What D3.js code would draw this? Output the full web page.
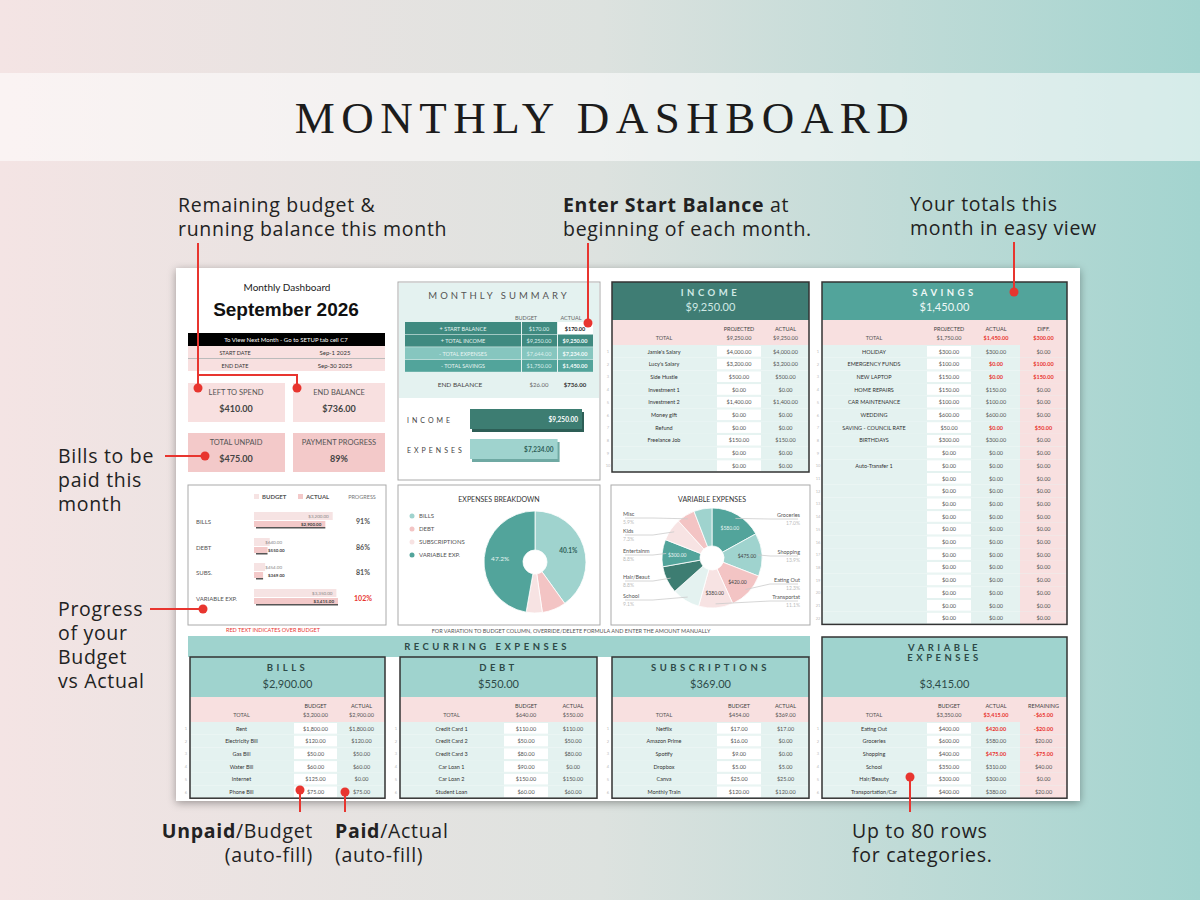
<!DOCTYPE html>
<html><head><meta charset="utf-8">
<script src="https://cdn.jsdelivr.net/npm/d3@7"></script>
<style>body{margin:0;background:#fff}svg{display:block}</style>
</head><body><svg id="c" width="1200" height="900"></svg>
<script>
// ---------- DATA ----------
const incomeNames=["Jamie's Salary","Lucy's Salary","Side Hustle","Investment 1","Investment 2","Money gift","Refund","Freelance Job","",""];
const incomeProjected=[4000,3200,500,0,1400,0,0,150,0,0];
const incomeActual=[4000,3200,500,0,1400,0,0,150,0,0];
const savingsNames=["HOLIDAY","EMERGENCY FUNDS","NEW LAPTOP","HOME REPAIRS","CAR MAINTENANCE","WEDDING","SAVING - COUNCIL RATE","BIRTHDAYS","","Auto-Transfer 1","","","","","","","","","","","",""];
const savingsProjected=[300,100,150,150,100,600,50,300,0,0,0,0,0,0,0,0,0,0,0,0,0,0];
const savingsActual=[300,0,0,150,100,600,0,300,0,0,0,0,0,0,0,0,0,0,0,0,0,0];
const billNames=["Rent","Electricity Bill","Gas Bill","Water Bill","Internet","Phone Bill"];
const billBudget=[1800,120,50,60,125,75];
const billActual=[1800,120,50,60,0,75];
const debtNames=["Credit Card 1","Credit Card 2","Credit Card 3","Car Loan 1","Car Loan 2","Student Loan"];
const debtBudget=[110,50,80,90,150,60];
const debtActual=[110,50,80,0,150,60];
const subNames=["Netflix","Amazon Prime","Spotify","Dropbox","Canva","Monthly Train"];
const subBudget=[17,16,9,5,25,120];
const subActual=[17,0,0,5,25,120];
const varNames=["Eating Out","Groceries","Shopping","School","Hair/Beauty","Transportation/Car"];
const varBudget=[400,600,400,350,300,400];
const varActual=[420,580,475,310,300,380];
const categories=["BILLS","DEBT","SUBS.","VARIABLE EXP."];
const pieCategories=["BILLS","DEBT","SUBSCRIPTIONS","VARIABLE EXP."];
const categoryBudget=[3200,640,454,3350];
const categoryActual=[2900,550,369,3415];
const summaryLabels=["+ START BALANCE","+ TOTAL INCOME","- TOTAL EXPENSES","- TOTAL SAVINGS"];
const summaryBudget=[170,9250,7644,1750];
const summaryActual=[170,9250,7234,1450];
const barLabels=["INCOME","EXPENSES"];
const barValues=[9250,7234];
const varPieNames=["Groceries","Shopping","Eating Out","Transportat","School","Hair/Beaut","Entertainm","Kids","Misc",""];
const varPieValues=[580,475,420,380,310,300,300,250,200,200];
const varPieInner=["$580.00","$475.00","$420.00","$380.00","","","$300.00","","",""];

// ---------- HELPERS ----------
const svg=d3.select("#c");
const fmt0=d3.format("$,.2f");
const fmt=v=>v<0?"-"+fmt0(-v):fmt0(v);
const sum=a=>d3.sum(a);
const F="Lato, 'Open Sans', sans-serif";
function T(x,y,s,o={}){
  return svg.append("text").attr("x",x).attr("y",y).text(s)
   .attr("font-family",o.f||F).attr("font-size",o.s||6).attr("fill",o.c||"#333")
   .attr("font-weight",o.w||"normal").attr("text-anchor",o.a||"middle")
   .attr("letter-spacing",o.ls||0);
}
function R(x,y,w,h,fill,o={}){
  return svg.append("rect").attr("x",x).attr("y",y).attr("width",w).attr("height",h)
   .attr("fill",fill).attr("stroke",o.st||"none").attr("stroke-width",o.sw||1);
}
const TEAL_L="#e4f2f0",PINK="#f8e0e0",PINK2="#f3c9c9",TEAL="#9fd3ce",TEAL_D="#3f7d74",TEAL_M="#52a49b",RED="#e8352f";

// ---------- BACKGROUND ----------
const defs=svg.append("defs");
const g=defs.append("linearGradient").attr("id","bg");
g.append("stop").attr("offset","0").attr("stop-color","#f4e4e4");
g.append("stop").attr("offset","0.5").attr("stop-color","#dde2df");
g.append("stop").attr("offset","1").attr("stop-color","#a3d4cf");
R(0,0,1200,900,"url(#bg)");
R(0,73,1200,88,"rgba(255,255,255,0.55)");
T(605,133,"MONTHLY DASHBOARD",{f:"'Liberation Serif', 'DejaVu Serif', serif",s:45,c:"#1c1c1c",ls:6.5});
const sh=defs.append("filter").attr("id","sh").attr("x","-5%").attr("y","-5%").attr("width","110%").attr("height","110%");
sh.append("feDropShadow").attr("dx",0).attr("dy",2).attr("stdDeviation",4).attr("flood-opacity",0.35);
R(176,268,904,533,"#fff").attr("filter","url(#sh)");

// ---------- LEFT HEADER PANEL ----------
T(287,291,"Monthly Dashboard",{s:10,c:"#222"});
T(286,316,"September 2026",{s:19,w:"bold",c:"#111",f:"'Liberation Sans', Arial, sans-serif"});
R(188,333,197,13,"#000");
T(286,342,"To View Next Month - Go to SETUP tab cell C7",{s:6,c:"#fff"});
R(188,346,197,12,PINK);R(188,359,197,12,PINK);
svg.append("line").attr("x1",188).attr("x2",385).attr("y1",358.5).attr("y2",358.5).attr("stroke","#bbb");
T(235,355,"START DATE",{s:5.5});T(335,355,"Sep-1 2025",{s:6});
T(235,368,"END DATE",{s:5.5});T(335,368,"Sep-30 2025",{s:6});
[[188,383,"LEFT TO SPEND","$410.00",PINK],[293,383,"END BALANCE","$736.00",PINK],
 [188,433,"TOTAL UNPAID","$475.00",PINK2],[293,433,"PAYMENT PROGRESS","89%",PINK2]].forEach(b=>{
  R(b[0],b[1],b[0]==188?97:92,39,b[4]);
  const cx=b[0]+(b[0]==188?48:46);
  T(cx,b[1]+12,b[2],{s:7.5,c:"#555"});
  T(cx,b[1]+29,b[3],{s:9,w:"bold",c:"#444"});
});

// ---------- MONTHLY SUMMARY ----------
R(398,282,202,198,"#fff",{st:"#aaa"});
R(399,283,200,115,"#e4f2f0");
T(499,299,"MONTHLY  SUMMARY",{s:9.5,c:"#555",ls:3});
T(526,320,"BUDGET",{s:5.5,c:"#666"});T(571,320,"ACTUAL",{s:5.5,c:"#666"});
const sumFill=["#3f8a80","#3f8a80","#86c6bf","#52a49b"];
summaryLabels.forEach((l,i)=>{
  const y=322+i*12.6;
  R(405,y,116,12,sumFill[i]);R(522,y,35,12,sumFill[i]);
  R(558,y,35,12,i==0?"#fff":sumFill[i]);
  T(463,y+8.5,l,{s:5.5,c:"#e8f4f2"});
  T(539,y+8.5,fmt(summaryBudget[i]),{s:5.5,c:"#dcefec"});
  T(575,y+8.5,fmt(summaryActual[i]),{s:5.5,w:"bold",c:i==0?"#222":"#f4fbfa"});
});
T(460,387,"END BALANCE",{s:6.5,c:"#444"});T(539,387,"$26.00",{s:6,c:"#666"});T(575,387,"$736.00",{s:6,w:"bold"});
const xb=d3.scaleLinear().domain([0,d3.max(barValues)]).range([0,112]);
const barFill=["#3d7d72","#9fd3ce"],barShade=["#2d5e56","#6fa9a3"];
barLabels.forEach((l,i)=>{
  const y=409+i*30;
  T(407,y+14,l,{s:7,c:"#444",a:"start",ls:3});
  R(472,y+3,xb(barValues[i]),20,barShade[i]);
  R(470,y,xb(barValues[i]),20,barFill[i]);
  T(466+xb(barValues[i]),y+13,fmt(barValues[i]),{s:6.5,w:"bold",c:i?"#2f5f59":"#fff",a:"end"});
});

// ---------- TABLE HELPER ----------
function table(c){
  const {x0,x1,x2,x3,x4,y,headH,titles,total,hf,tc,heads,totals,names,cols,rowsN}=c;
  const right=x4||x3;
  R(x0,y,right-x0,headH,hf);
  titles.forEach((t,i)=>T((x0+right)/2,y+14+i*10,t,{s:9.5,c:tc,ls:3.5,w:"bold"}));
  T((x0+right)/2,y+headH-9,total,{s:11,c:tc});
  const py=y+headH;
  R(x0,py,right-x0,25,PINK);
  T((x0+x1)/2,py+20,"TOTAL",{s:5.5,c:"#555"});
  heads.forEach((h,i)=>{
    const cx=([x1,x2,x3][i]+[x2,x3,x4][i])/2;
    T(cx,py+11,h,{s:5.5,c:"#444"});
    T(cx,py+20,totals[i].s,{s:5.5,c:totals[i].red?RED:"#555",w:totals[i].red?"bold":"normal"});
  });
  const rh=12.7, ry=py+25;
  for(let r=0;r<rowsN;r++){
    const yy=ry+r*rh;
    R(x0,yy,right-x0,rh,TEAL_L);
    R(x1+1,yy+1,x2-x1-2,rh-2,"#fff");
    if(x4) R(x3,yy,x4-x3,rh,PINK);
    T(x0-4,yy+8,String(r+1),{s:4,c:"#bbb"});
    T((x0+x1)/2,yy+8.5,names[r]||"",{s:5.5,c:"#333"});
    cols.forEach((col,i)=>{
      const cx=([x1,x2,x3][i]+[x2,x3,x4][i])/2;
      const v=col.vals[r];
      const red=col.red?col.red(r):false;
      T(cx,yy+8.5,fmt(v),{s:5.5,c:red?RED:"#555",w:red?"bold":"normal"});
    });
  }
  const bottom=Math.min(ry+rowsN*rh,800);
  svg.append("rect").attr("x",x0).attr("y",y).attr("width",right-x0).attr("height",bottom-y)
    .attr("fill","none").attr("stroke","#333").attr("stroke-width",1.5);
}

// Income
table({x0:612,x1:716,x2:762,x3:809,y:282,headH:38,titles:["INCOME"],total:fmt(sum(incomeActual)),hf:TEAL_D,tc:"#cfe9e5",
 heads:["PROJECTED","ACTUAL"],totals:[{s:fmt(sum(incomeProjected))},{s:fmt(sum(incomeActual))}],
 names:incomeNames,cols:[{vals:incomeProjected},{vals:incomeActual}],rowsN:incomeNames.length});
// Savings
const savingsDiff=savingsProjected.map((v,i)=>v-savingsActual[i]);
table({x0:822,x1:926,x2:972,x3:1020,x4:1067,y:282,headH:38,titles:["SAVINGS"],total:fmt(sum(savingsActual)),hf:TEAL_M,tc:"#eef8f6",
 heads:["PROJECTED","ACTUAL","DIFF."],totals:[{s:fmt(sum(savingsProjected))},{s:fmt(sum(savingsActual)),red:true},{s:fmt(sum(savingsDiff)),red:true}],
 names:savingsNames,cols:[{vals:savingsProjected},{vals:savingsActual,red:r=>savingsActual[r]<savingsProjected[r]},{vals:savingsDiff,red:r=>savingsDiff[r]>0}],rowsN:savingsNames.length});

// ---------- PROGRESS PANEL ----------
R(188,485,198,140,"#fff",{st:"#aaa"});
R(254,494,5,5,"#f6e3e3");T(262,499,"BUDGET",{s:6,w:"bold",c:"#555",a:"start"});
R(298,494,5,5,PINK2);T(306,499,"ACTUAL",{s:6,w:"bold",c:"#555",a:"start"});
T(362,499,"PROGRESS",{s:5.5,c:"#777"});
const xp=d3.scaleLinear().domain([0,d3.max(categoryActual.concat(categoryBudget))]).range([0,84]);
categories.forEach((cat,i)=>{
  const y=[522,548,573,599][i];
  T(196,y+2,cat,{s:6,c:"#555",a:"start"});
  R(254,y-10,xp(categoryBudget[i]),8,"#f6e3e3");
  R(256,y+5,xp(categoryActual[i])-2,1.5,"#555");
  R(254,y-1,xp(categoryActual[i]),6,PINK2);
  const small=xp(categoryBudget[i])<30;
  T(small?282:250+xp(categoryBudget[i]),y-4,fmt(categoryBudget[i]),{s:4.5,c:"#888",a:"end"});
  T(small?268:250+xp(categoryActual[i]),y+4,fmt(categoryActual[i]),{s:4.5,c:"#444",a:small?"start":"end",w:"bold"});
  const p=Math.round(categoryActual[i]/categoryBudget[i]*100);
  T(363,y+2,p+"%",{s:7,w:"bold",c:p>100?RED:"#555"});
});
T(273,632,"RED TEXT INDICATES OVER BUDGET",{s:5.5,c:RED});
T(571,633,"FOR VARIATION TO BUDGET COLUMN, OVERRIDE/DELETE FORMULA AND ENTER THE AMOUNT MANUALLY",{s:5.5,c:"#555"});

// ---------- EXPENSES BREAKDOWN PIE ----------
R(398,485,202,140,"#fff",{st:"#aaa"});
T(499,502,"EXPENSES BREAKDOWN",{s:7,c:"#333"});
const pieCol=["#9fd3ce","#f3c4c4","#f7e3e3","#52a49b"];
pieCategories.forEach((p,i)=>{
  svg.append("circle").attr("cx",412).attr("cy",516+i*13).attr("r",2.5).attr("fill",pieCol[i]);
  T(419,518+i*13,p,{s:6,c:"#555",a:"start"});
});
const pie=d3.pie().sort(null);
const arc1=d3.arc().innerRadius(12).outerRadius(51);
const pg=svg.append("g").attr("transform","translate(535,562)");
const pd=pie(categoryActual);
pg.selectAll("path").data(pd).join("path").attr("d",arc1).attr("fill",(d,i)=>pieCol[i]).attr("stroke","#fff").attr("stroke-width",0.8);
const tot=sum(categoryActual);
pd.forEach((d,i)=>{ if(d.value/tot>0.2){const c=d3.arc().innerRadius(30).outerRadius(40).centroid(d);
  pg.append("text").attr("x",c[0]).attr("y",c[1]+2).attr("text-anchor","middle").attr("font-family",F).attr("font-size",6.5)
   .attr("fill",i==3?"#e8f4f2":"#2f5f59").attr("font-weight",i==0?"bold":"normal").text((d.value/tot*100).toFixed(1)+"%");}});

// ---------- VARIABLE EXPENSES PIE ----------
R(611,485,199,140,"#fff",{st:"#aaa"});
T(712,502,"VARIABLE EXPENSES",{s:7,c:"#333"});
const vCol=["#52a49b","#9fd3ce","#f3c4c4","#f7e3e3","#e4f2f0","#3d7d72","#52a49b","#f7e3e3","#f3c4c4","#9fd3ce"];
const vg=svg.append("g").attr("transform","translate(712,558)");
const vd=pie(varPieValues);
const arc2=d3.arc().innerRadius(12).outerRadius(50);
vg.selectAll("path").data(vd).join("path").attr("d",arc2).attr("fill",(d,i)=>vCol[i]).attr("stroke","#fff").attr("stroke-width",0.8);
vd.forEach((d,i)=>{
  if(varPieInner[i]){const c=d3.arc().innerRadius(28).outerRadius(42).centroid(d);
    vg.append("text").attr("x",c[0]).attr("y",c[1]+2).attr("text-anchor","middle").attr("font-family",F).attr("font-size",5)
     .attr("fill",i==0||i==6?"#e8f4f2":"#444").text(varPieInner[i]);}
});
const labY={Groceries:517,Shopping:554,"Eating Out":582,Transportat:599,Misc:516,Kids:533,Entertainm:553,"Hair/Beaut":579,School:598};
vd.forEach((d,i)=>{
  const n=varPieNames[i]; if(!n) return;
  const right=(d.startAngle+d.endAngle)/2<Math.PI;
  const lx=right?800:623, ly=labY[n];
  const c=d3.arc().innerRadius(46).outerRadius(46).centroid(d);
  const ex=right?lx-30:lx+30;
  svg.append("polyline").attr("points",`${lx+(right?-2:2)},${ly+2} ${ex},${ly+2} ${712+c[0]},${558+c[1]}`).attr("fill","none").attr("stroke","#ccc").attr("stroke-width",0.8);
  T(lx,ly,n,{s:5.5,c:"#555",a:right?"end":"start"});
  T(lx,ly+8,(d.value/categoryActual[3]*100).toFixed(1)+"%",{s:5,c:"#bbb",a:right?"end":"start"});
});

// ---------- RECURRING EXPENSES ----------
R(188,636,622,21,TEAL);
T(487,650,"RECURRING EXPENSES",{s:9.5,c:"#2d4a48",ls:3.5,w:"bold"});
table({x0:190,x1:293,x2:338,x3:385,y:657,headH:40,titles:["BILLS"],total:fmt(categoryActual[0]),hf:TEAL,tc:"#2d4a48",
 heads:["BUDGET","ACTUAL"],totals:[{s:fmt(categoryBudget[0])},{s:fmt(categoryActual[0])}],names:billNames,cols:[{vals:billBudget},{vals:billActual}],rowsN:6});
table({x0:400,x1:503,x2:549,x3:597,y:657,headH:40,titles:["DEBT"],total:fmt(categoryActual[1]),hf:TEAL,tc:"#2d4a48",
 heads:["BUDGET","ACTUAL"],totals:[{s:fmt(categoryBudget[1])},{s:fmt(categoryActual[1])}],names:debtNames,cols:[{vals:debtBudget},{vals:debtActual}],rowsN:6});
table({x0:612,x1:716,x2:762,x3:809,y:657,headH:40,titles:["SUBSCRIPTIONS"],total:fmt(categoryActual[2]),hf:TEAL,tc:"#2d4a48",
 heads:["BUDGET","ACTUAL"],totals:[{s:fmt(categoryBudget[2])},{s:fmt(categoryActual[2])}],names:subNames,cols:[{vals:subBudget},{vals:subActual}],rowsN:6});
const varRem=varBudget.map((v,i)=>v-varActual[i]);
table({x0:822,x1:926,x2:972,x3:1020,x4:1067,y:637,headH:60,titles:["VARIABLE","EXPENSES"],total:fmt(categoryActual[3]),hf:TEAL,tc:"#2d4a48",
 heads:["BUDGET","ACTUAL","REMAINING"],totals:[{s:fmt(categoryBudget[3])},{s:fmt(categoryActual[3]),red:true},{s:fmt(categoryBudget[3]-categoryActual[3]),red:true}],
 names:varNames,cols:[{vals:varBudget},{vals:varActual,red:r=>varActual[r]>varBudget[r]},{vals:varRem,red:r=>varRem[r]<0}],rowsN:6});

// ---------- ANNOTATIONS ----------
const AF="'Open Sans', sans-serif";
function A(x,y,lines,a="start"){lines.forEach((l,i)=>{
  const t=svg.append("text").attr("x",x).attr("y",y+i*24).attr("font-family",AF).attr("font-size",19.5).attr("letter-spacing",0.7).attr("fill","#222").attr("text-anchor",a);
  l.forEach(p=>t.append("tspan").attr("font-weight",p[1]?"bold":"normal").text(p[0]));});}
function L(pts,dot){svg.append("polyline").attr("points",pts.map(p=>p.join(",")).join(" ")).attr("fill","none").attr("stroke",RED).attr("stroke-width",2);
  svg.append("circle").attr("cx",dot[0]).attr("cy",dot[1]).attr("r",4.5).attr("fill",RED);}
A(178,212,[[["Remaining budget &"]],[["running balance this month"]]]);
L([[198,243],[198,388]],[198,388]);L([[198,375],[297,375],[297,388]],[297,388]);
A(563,212,[[["Enter Start Balance",1],[" at"]],[["beginning of each month."]]]);
L([[588,243],[588,323]],[588,323]);
A(910,211,[[["Your totals this"]],[["month in easy view"]]]);
L([[1014,242],[1014,292]],[1014,292]);
A(58,463,[[["Bills to be"]],[["paid this"]],[["month"]]]);
L([[165,456],[205,456]],[205,456]);
A(58,616,[[["Progress"]],[["of your"]],[["Budget"]],[["vs Actual"]]]);
L([[150,609],[203,609]],[203,609]);
A(313,838,[[["Unpaid",1],["/Budget"]],[["(auto-fill)"]]],"end");
L([[300,790],[300,812]],[300,790]);
A(335,838,[[["Paid",1],["/Actual"]],[["(auto-fill)"]]]);
L([[345,792],[345,812]],[345,792]);
A(852,838,[[["Up to 80 rows"]],[["for categories."]]]);
L([[910,777],[910,812]],[910,777]);
</script></body></html>
